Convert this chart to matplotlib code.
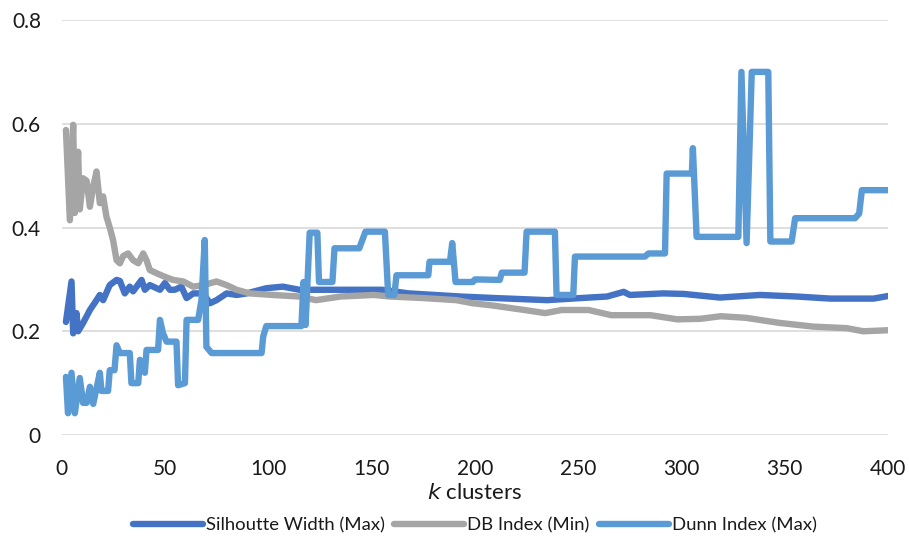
import matplotlib
matplotlib.use("Agg")
import matplotlib.pyplot as plt

plt.rcParams["font.family"] = ["Lato", "DejaVu Sans"]

# ---------------- data ----------------
sil_k = [2, 4.7, 5.5, 7.1, 7.9, 10.3, 13.6, 16.8, 18.4, 20, 23.2, 26.5, 28.1,
         30.5, 32.9, 34.5, 38.6, 40.2, 42.6, 47.5, 49.9, 52.3, 54.7, 57.9,
         60.4, 63.6, 68.5, 71.7, 74.9, 79.8, 84.6, 89.5, 99, 107, 115, 135,
         155, 168, 193, 210, 235, 251, 264, 272, 275, 291, 301, 318.6, 338,
         355.8, 372, 393, 400]
sil_val = [0.218, 0.296, 0.196, 0.235, 0.2, 0.216, 0.241, 0.26, 0.27, 0.26,
           0.289, 0.299, 0.297, 0.273, 0.286, 0.277, 0.299, 0.28, 0.289, 0.28,
           0.293, 0.28, 0.28, 0.286, 0.264, 0.273, 0.273, 0.254, 0.26, 0.273,
           0.27, 0.273, 0.283, 0.286, 0.28, 0.28, 0.28, 0.273, 0.267, 0.264,
           0.26, 0.264, 0.267, 0.276, 0.27, 0.273, 0.272, 0.265, 0.27, 0.267,
           0.263, 0.263, 0.268]

db_k = [2, 3.9, 5.5, 6.3, 7.9, 8.7, 10.3, 12, 13.6, 15.2, 16.8, 18.4, 20,
        21.6, 23.2, 24.8, 26.5, 28.1, 29.7, 32.1, 34.5, 37, 39.4, 41, 42.6,
        45.8, 49.9, 53.9, 58.8, 63.6, 68.5, 74.9, 79.8, 84.6, 91, 102, 115,
        123, 135, 151, 159, 175, 191, 199, 208, 224, 234, 242, 255, 266, 285,
        298, 309, 319, 331, 347.7, 363.8, 380, 388, 400]
db_val = [0.588, 0.414, 0.598, 0.428, 0.546, 0.435, 0.495, 0.49, 0.44, 0.479,
          0.508, 0.447, 0.46, 0.421, 0.40, 0.376, 0.337, 0.331, 0.345, 0.35,
          0.337, 0.331, 0.35, 0.337, 0.318, 0.312, 0.305, 0.299, 0.296, 0.286,
          0.289, 0.296, 0.289, 0.28, 0.273, 0.27, 0.267, 0.26, 0.267, 0.27,
          0.267, 0.264, 0.26, 0.254, 0.25, 0.241, 0.235, 0.241, 0.241, 0.231,
          0.231, 0.223, 0.224, 0.229, 0.226, 0.216, 0.209, 0.206, 0.2, 0.202]

dunn_k = [2, 3, 4.7, 6.3, 8.7, 10.3, 12, 13.6, 15.2, 18.4, 19.2, 22.4, 23.2,
          25.5, 26.5, 28.1, 32.9, 33.7, 37, 37.8, 40.2, 41, 46.6, 47.5, 49,
          50.7, 55.5, 56.3, 59.6, 60.4, 66, 67.6, 69.2, 70, 72.5, 96.7, 97.5,
          99, 116, 117, 118, 120, 123.7, 124.5, 131, 132, 144, 147, 156.4, 158,
          161, 162, 177.4, 178, 187.9, 189, 190.6, 199, 200, 212, 213, 224,
          225, 238.7, 239.5, 247.6, 248.4, 282.3, 284, 292, 292.8, 305, 305.5,
          307.3, 327.5, 329, 331.5, 334, 342, 343, 353.3, 355, 384, 386, 387.3,
          400]
dunn_val = [0.112, 0.042, 0.12, 0.042, 0.11, 0.062, 0.062, 0.093, 0.06, 0.12,
            0.085, 0.085, 0.125, 0.125, 0.173, 0.158, 0.158, 0.1, 0.1, 0.145,
            0.12, 0.164, 0.164, 0.222, 0.196, 0.18, 0.18, 0.096, 0.1, 0.222,
            0.222, 0.26, 0.376, 0.17, 0.158, 0.158, 0.19, 0.21, 0.21, 0.295,
            0.212, 0.39, 0.39, 0.295, 0.295, 0.36, 0.36, 0.392, 0.392, 0.27,
            0.27, 0.308, 0.308, 0.334, 0.334, 0.37, 0.295, 0.295, 0.3, 0.299,
            0.313, 0.313, 0.392, 0.392, 0.27, 0.27, 0.344, 0.344, 0.35, 0.35,
            0.504, 0.504, 0.553, 0.382, 0.382, 0.70, 0.37, 0.70, 0.70, 0.373,
            0.373, 0.418, 0.418, 0.427, 0.472, 0.472]

x_ticks = [0, 50, 100, 150, 200, 250, 300, 350, 400]
y_ticks = [0, 0.2, 0.4, 0.6, 0.8]
y_labels = ["0", "0.2", "0.4", "0.6", "0.8"]

# ---------------- plot ----------------
fig = plt.figure(figsize=(9.09, 5.38), dpi=100)
ax = fig.add_axes([0.068, 0.1914, 0.909, 0.7714])

lw = 4.6
ax.plot(sil_k, sil_val, color="#4472C4", linewidth=lw,
        solid_capstyle="round", solid_joinstyle="round",
        label="Silhoutte Width (Max)", zorder=3)
ax.plot(db_k, db_val, color="#A5A5A5", linewidth=lw,
        solid_capstyle="round", solid_joinstyle="round",
        label="DB Index (Min)", zorder=4)
ax.plot(dunn_k, dunn_val, color="#5B9BD5", linewidth=lw,
        solid_capstyle="round", solid_joinstyle="round",
        label="Dunn Index (Max)", zorder=5)

ax.set_xlim(0, 400)
ax.set_ylim(0, 0.8)
ax.set_xticks(x_ticks)
ax.set_yticks(y_ticks)
ax.set_yticklabels(y_labels)
ax.tick_params(length=0, labelsize=15, labelcolor="#1a1a1a")
ax.tick_params(axis="x", pad=17.5)
ax.tick_params(axis="y", pad=15)
ax.grid(axis="y", color="#D9D9D9", linewidth=1.2)
ax.set_axisbelow(True)
for s in ax.spines.values():
    s.set_visible(False)

ax.set_xlabel("$k$ clusters", fontsize=16, color="#1a1a1a", labelpad=3)

ax.legend(loc="center", bbox_to_anchor=(0.5, -0.218), ncol=3,
          frameon=False, fontsize=13.3, handlelength=3.8, handletextpad=0.15,
          columnspacing=0.5, labelcolor="#1a1a1a")

fig.savefig("out.png", dpi=100)
